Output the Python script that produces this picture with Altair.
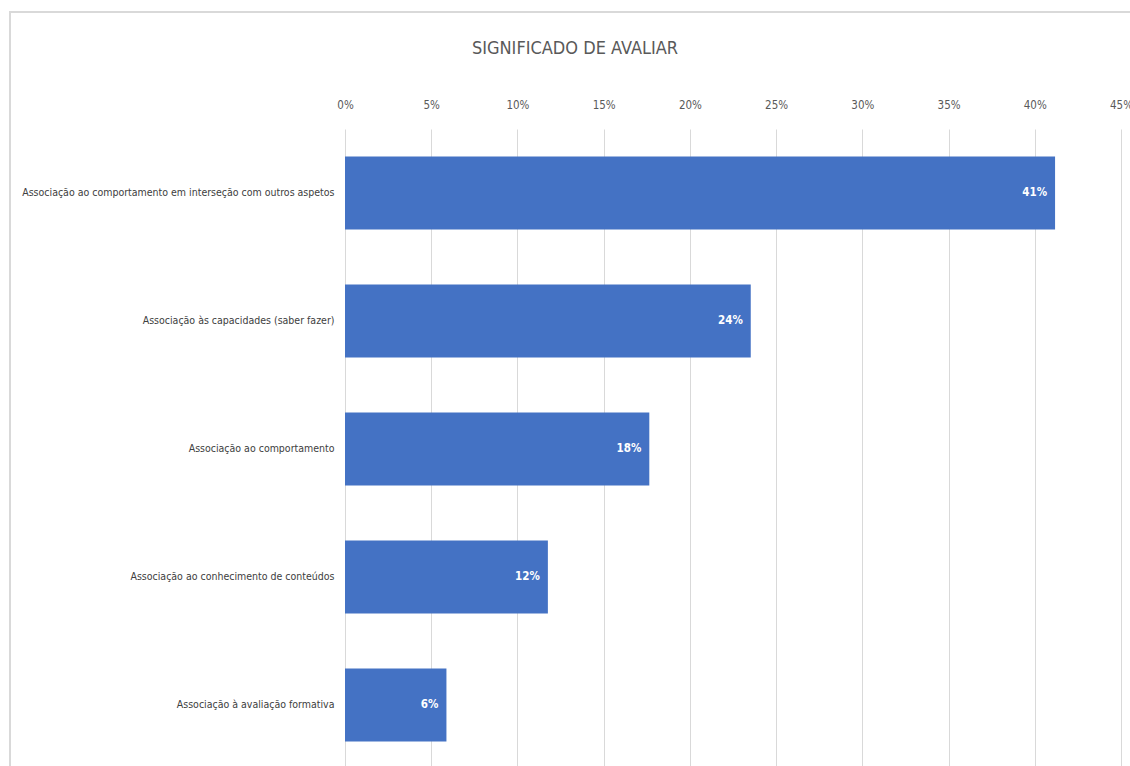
import altair as alt
import pandas as pd

categories = [
    "Associação ao comportamento em interseção com outros aspetos",
    "Associação às capacidades (saber fazer)",
    "Associação ao comportamento",
    "Associação ao conhecimento de conteúdos",
    "Associação à avaliação formativa",
]
values = [7 / 17, 4 / 17, 3 / 17, 2 / 17, 1 / 17]
labels = ["41%", "24%", "18%", "12%", "6%"]

df = pd.DataFrame({"cat": categories, "val": values, "lab": labels})

FONT = "DejaVu Sans Condensed, Liberation Sans, sans-serif"

y_enc = alt.Y(
    "cat:N",
    sort=categories,
    title=None,
    scale=alt.Scale(paddingInner=0.43, paddingOuter=0.215),
    axis=alt.Axis(
        labelFont=FONT, labelFontSize=10.5, labelColor="#404040",
        labelPadding=11, ticks=False, domain=False, labelLimit=400,
    ),
)
x_enc = alt.X(
    "val:Q",
    title=None,
    scale=alt.Scale(domain=[0, 0.45], nice=False, zero=True),
    axis=alt.Axis(
        orient="top", format=".0%", values=[0, 0.05, 0.1, 0.15, 0.2, 0.25, 0.3, 0.35, 0.4, 0.45],
        labelFont=FONT, labelFontSize=11.5, labelColor="#595959",
        ticks=False, tickSize=0, domain=False, labelPadding=19,
        grid=True, gridColor="#d9d9d9", gridWidth=1, labelFlush=False,
    ),
)

bars = alt.Chart(df).mark_bar(color="#4472C4").encode(x=x_enc, y=y_enc)
text = alt.Chart(df).mark_text(
    align="right", dx=-8, color="white", font=FONT, fontSize=11.5, fontWeight="bold"
).encode(x="val:Q", y=alt.Y("cat:N", sort=categories), text="lab:N")

frame = alt.Chart(df).mark_rect(fill=None, stroke="#d9d9d9", strokeWidth=2).encode(
    x=alt.value(-335), x2=alt.value(900), y=alt.value(-117), y2=alt.value(800)
)

chart = alt.layer(frame, bars, text).properties(
    width=776,
    height=640,
    title=alt.TitleParams(
        "SIGNIFICADO DE AVALIAR", font=FONT, fontSize=18, fontWeight="normal",
        color="#595959", anchor="middle", dx=-158, offset=-47,
    ),
    autosize=alt.AutoSizeParams(type="none"),
    padding={"left": 345, "top": 129, "right": 9, "bottom": 0},
).configure_view(stroke=None)

chart.save("out.html", embed_options={"renderer": "svg", "actions": False})
